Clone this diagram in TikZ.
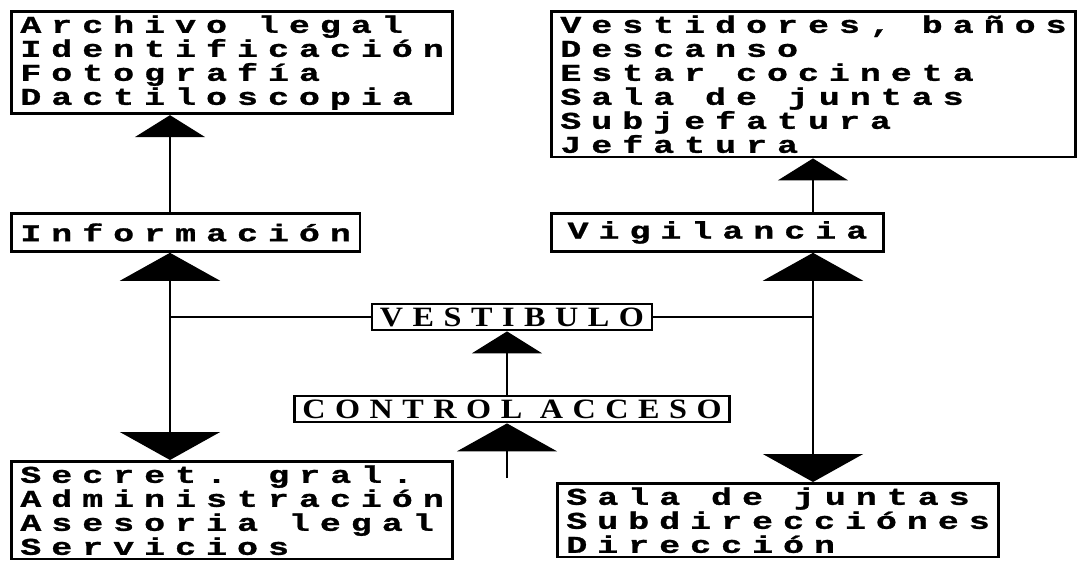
\documentclass[tikz,border=0pt]{standalone}
\usepackage{fontspec}
\usetikzlibrary{arrows.meta}
\newfontfamily\printfont[FakeStretch=1.45,FakeBold=1.2,LetterSpace=42]{Liberation Mono}
\newfontfamily\signfont[FakeStretch=1.15,LetterSpace=34]{Liberation Serif}
\begin{document}
\begin{tikzpicture}[x=1pt,y=-1pt,line width=2.8pt,
  listbox/.style={draw,anchor=north west,align=left,inner xsep=9pt,inner ysep=4pt,
    font=\printfont\bfseries\fontsize{24}{24}\selectfont},
  tagbox/.style={listbox,minimum height=38pt},
  signbox/.style={draw,inner xsep=8pt,inner ysep=3pt,text height=19pt,text depth=1pt,
    font=\signfont\bfseries\fontsize{28}{28}\selectfont},
  bigarr/.style={-{Triangle[width=100pt,length=28pt]}},
  smallarr/.style={-{Triangle[width=70pt,length=22pt]}}]
\useasboundingbox (0,0) rectangle (1092,562);
\coordinate (jl) at (170,317);
\coordinate (jr) at (813,317);
\coordinate (entry) at (507,478);
\node[listbox] (archivo) at (10,10) {Archivo legal\\Identificación\\Fotografía\\Dactiloscopia};
\node[listbox] (vestidores) at (550,10) {Vestidores, baños\\Descanso\\Estar cocineta\\Sala de juntas\\Subjefatura\\Jefatura};
\node[tagbox] (info) at (10,212) {Información};
\node[tagbox,minimum width=332pt] (vigil) at (550,212) {Vigilancia};
\node[signbox] (vest) at (512,317) {VESTIBULO};
\node[signbox] (control) at (512,409) {CONTROL ACCESO};
\node[listbox] (secret) at (10,460) {Secret. gral.\\Administración\\Asesoria legal\\Servicios};
\node[listbox] (sala) at (556,482) {Sala de juntas\\Subdirecciónes\\Dirección};
\draw[smallarr] (info.north -| jl) -- (archivo.south -| jl);
\draw[bigarr] (jl) -- (info.south -| jl);
\draw[bigarr] (jl) -- (secret.north -| jl);
\draw (jl) -- (vest.west);
\draw (vest.east) -- (jr);
\draw[smallarr] (vigil.north -| jr) -- (vestidores.south -| jr);
\draw[bigarr] (jr) -- (vigil.south -| jr);
\draw[bigarr] (jr) -- (sala.north -| jr);
\draw[smallarr] (control.north -| entry) -- (vest.south -| entry);
\draw[bigarr] (entry) -- (control.south -| entry);
\end{tikzpicture}
\end{document}
